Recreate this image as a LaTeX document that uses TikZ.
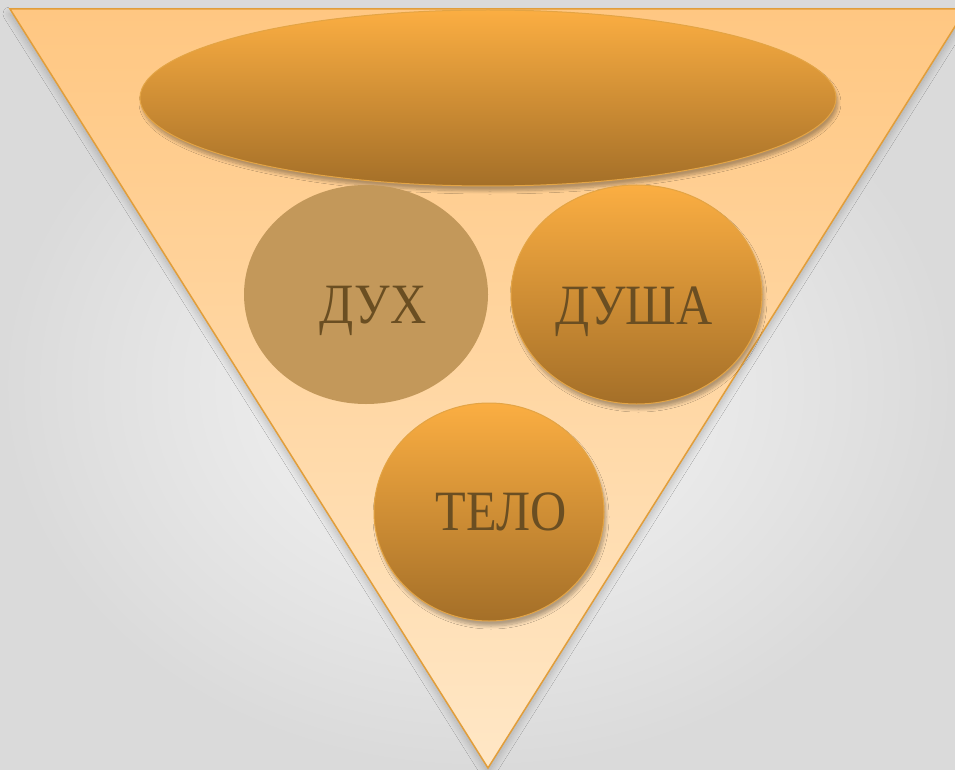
\documentclass[tikz,border=0pt]{standalone}
\usepackage{fontspec}
\setmainfont{Liberation Serif}
\newfontfamily\lblfont[FakeStretch=0.88]{Liberation Serif}
\usetikzlibrary{shapes.geometric,shadows.blur}
\definecolor{bgin}{HTML}{F8F8F8}
\definecolor{bgout}{HTML}{DADADA}
\definecolor{tritop}{HTML}{FFC782}
\definecolor{tribot}{HTML}{FFE7C6}
\definecolor{triline}{HTML}{E29E3A}
\definecolor{balltop}{HTML}{FBAE42}
\definecolor{ballbot}{HTML}{A46F28}
\definecolor{ballline}{HTML}{E3A445}
\definecolor{flatfill}{HTML}{C3985A}
\definecolor{txt}{HTML}{6A4E22}
\tikzset{
  ball/.style={ellipse, draw=ballline, line width=1pt, top color=balltop, bottom color=ballbot,
    blur shadow={shadow xshift=2pt, shadow yshift=-5pt, shadow blur radius=3pt, shadow blur steps=8, shadow opacity=30}},
  flatball/.style={ellipse, fill=flatfill},
  lbl/.style={text=txt, font=\lblfont\fontsize{57}{60}\selectfont, inner sep=0pt, anchor=base}
}
\begin{document}
\begin{tikzpicture}[x=1pt,y=-1pt]
\useasboundingbox (0,0) rectangle (955,770);
\shade[inner color=bgin, outer color=bgout] (0,0) rectangle (955,770);
% triangle
\coordinate (tl) at (10,9);
\coordinate (tr) at (966,9);
\coordinate (ap) at (488,768);
\fill[top color=tritop, bottom color=tribot,
  blur shadow={shadow xshift=0pt, shadow yshift=-5pt, shadow blur radius=7pt, shadow blur steps=12, shadow opacity=22}]
  (tl) -- (tr) -- (ap) -- cycle;
\draw[triline, line width=1.5pt, line join=miter] (tl) -- (tr) -- (ap) -- cycle;
% top ellipse
\node[ball, minimum width=696pt, minimum height=176pt, inner sep=0pt] (top) at (488,98) {};
% spirit
\node[flatball, minimum width=244pt, minimum height=219pt, inner sep=0pt] (dukh) at (366,294.5) {};
% soul
\node[ball, minimum width=251pt, minimum height=219pt, inner sep=0pt] (dusha) at (636.5,294.5) {};
% body
\node[ball, minimum width=230pt, minimum height=218pt, inner sep=0pt] (telo) at (489,512) {};
% labels
\node[lbl] (tdukh) at (373,323) {ДУХ};
\node[lbl] (tdusha) at (634,324) {ДУША};
\node[lbl] (ttelo) at (501,530) {ТЕЛО};
\end{tikzpicture}
\end{document}
